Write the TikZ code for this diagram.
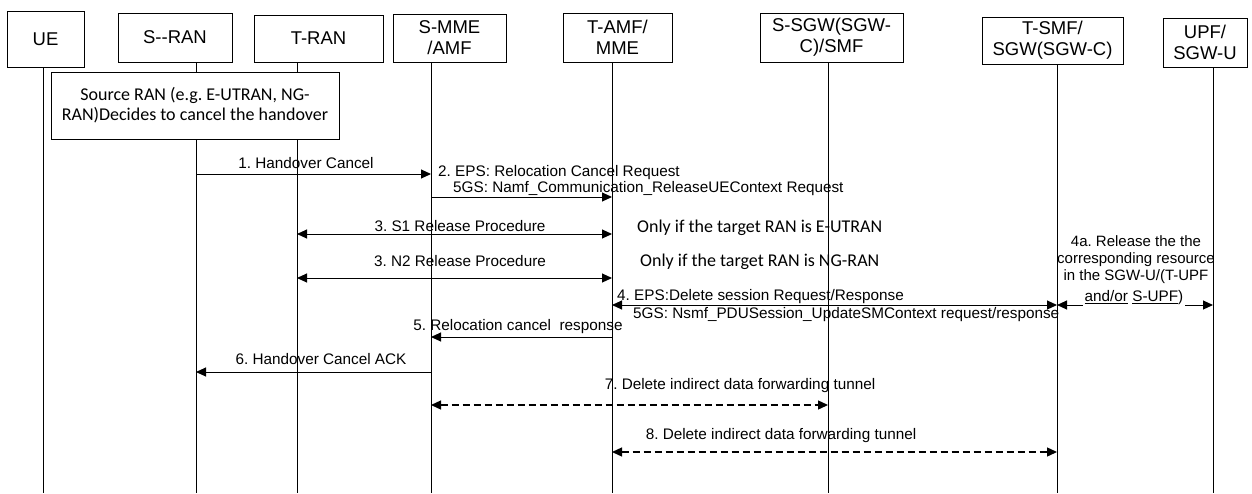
\documentclass[tikz,border=0pt]{standalone}
\usepackage{fontspec}
\setmainfont{Liberation Sans}
\newfontfamily\calfont{Carlito}
\usetikzlibrary{arrows.meta}
\frenchspacing
\tikzset{
  actor/.style={draw, line width=0.8pt, align=center, inner sep=0pt, font=\fontsize{18.5}{21}\selectfont},
  life/.style={line width=0.8pt},
  msg/.style={line width=1pt, -{Triangle[length=10pt,width=9pt]}},
  dmsg/.style={line width=1pt, {Triangle[length=10pt,width=9pt]}-{Triangle[length=10pt,width=9pt]}},
  dashmsg/.style={dmsg, line width=1.3pt, dash pattern=on 7pt off 4pt},
  lab/.style={inner sep=0pt, font=\fontsize{15.3}{17}\selectfont},
  clab/.style={inner sep=0pt, font=\calfont\fontsize{18}{20}\selectfont},
}
\begin{document}
\frenchspacing
\begin{tikzpicture}[x=1pt,y=-1pt]
\useasboundingbox (0,0) rectangle (1252,493);
% actors
\node[actor, minimum width=77, minimum height=56] (ue) at (45.5,39) {UE};
\node[actor, minimum width=114, minimum height=49] (sran) at (175,37.5) {S-{}-RAN};
\node[actor, minimum width=129, minimum height=47] (tran) at (318.5,38.5) {T-RAN};
\node[actor, minimum width=113, minimum height=48] (smme) at (449.5,38) {S-MME\\/AMF};
\node[actor, minimum width=109, minimum height=49] (tamf) at (617.5,37.5) {T-AMF/\\MME};
\node[actor, minimum width=143, minimum height=49] (ssgw) at (831.5,37.5) {S-SGW(SGW-\\C)/SMF};
\node[actor, minimum width=141, minimum height=47] (tsmf) at (1052.5,40.5) {T-SMF/\\SGW(SGW-C)};
\node[actor, minimum width=84, minimum height=49] (upf) at (1205,42.5) {UPF/\\SGW-U};
% source RAN box
\node[draw, line width=0.8pt, minimum width=288, minimum height=67, inner sep=0pt, align=center,
      font=\calfont\fontsize{18}{20}\selectfont] (src) at (195,105.5)
      {Source RAN (e.g. E-UTRAN, NG-\\RAN)Decides to cancel the handover};
% lifeline x positions
\coordinate (xUE) at (43,0);
\coordinate (xSRAN) at (196,0);
\coordinate (xTRAN) at (297,0);
\coordinate (xSMME) at (431,0);
\coordinate (xTAMF) at (612,0);
\coordinate (xSSGW) at (828,0);
\coordinate (xTSMF) at (1057,0);
\coordinate (xUPF) at (1213,0);
\coordinate (bot) at (0,493);
% lifelines
\draw[life] (ue.south -| xUE) -- (xUE |- bot);
\draw[life] (sran.south -| xSRAN) -- (src.north -| xSRAN);
\draw[life] (src.south -| xSRAN) -- (xSRAN |- bot);
\draw[life] (tran.south -| xTRAN) -- (src.north -| xTRAN);
\draw[life] (src.south -| xTRAN) -- (xTRAN |- bot);
\draw[life] (smme.south -| xSMME) -- (xSMME |- bot);
\draw[life] (tamf.south -| xTAMF) -- (xTAMF |- bot);
\draw[life] (ssgw.south -| xSSGW) -- (xSSGW |- bot);
\draw[life] (tsmf.south -| xTSMF) -- (xTSMF |- bot);
\draw[life] (upf.south -| xUPF) -- (xUPF |- bot);
% message y levels
\coordinate (y1) at (0,174);
\coordinate (y2) at (0,197);
\coordinate (y3) at (0,234);
\coordinate (y3b) at (0,278);
\coordinate (y4) at (0,305);
\coordinate (y5) at (0,337);
\coordinate (y6) at (0,372);
\coordinate (y7) at (0,405);
\coordinate (y8) at (0,452);
% 1
\draw[msg] (xSRAN |- y1) -- (xSMME |- y1);
\node[lab] (l1) at (306,163) {1. Handover Cancel};
% 2
\draw[msg] (xSMME |- y2) -- (xTAMF |- y2);
\node[lab, anchor=west] (l2a) at (438,173) {2. EPS: Relocation Cancel Request};
\node[lab, anchor=west] (l2b) at (453,189) {5GS: Namf\_Communication\_ReleaseUEContext Request};
% 3
\draw[dmsg] (xTRAN |- y3) -- (xTAMF |- y3);
\node[lab] (l3a) at (460,226) {3. S1 Release Procedure};
\node[clab, anchor=west] (n3a) at (637,228) {Only if the target RAN is E-UTRAN};
\draw[dmsg] (xTRAN |- y3b) -- (xTAMF |- y3b);
\node[lab] (l3b) at (460,261) {3. N2 Release Procedure};
\node[clab, anchor=west] (n3b) at (640,262) {Only if the target RAN is NG-RAN};
% 4
\draw[dmsg] (xTAMF |- y4) -- (xTSMF |- y4);
\node[lab, anchor=west] (l4a) at (617,297) {4. EPS:Delete session Request/Response};
\node[lab, anchor=west] (l4b) at (633,315) {5GS: Nsmf\_PDUSession\_UpdateSMContext request/response};
% 4a
\draw[dmsg] (xTSMF |- y4) -- (xUPF |- y4);
\node[lab, align=center, font=\fontsize{15}{17}\selectfont] (l4x) at (1136,260)
   {4a. Release the the\\corresponding resource\\in the SGW-U/(T-UPF};
\node[lab, fill=white, inner xsep=2pt, inner ysep=1pt] (l4y) at (1134,298) {\underline{and/or} \underline{S-UPF})};
% 5
\draw[msg] (xTAMF |- y5) -- (xSMME |- y5);
\node[lab] (l5) at (518,327) {5. Relocation cancel\ \ response};
% 6
\draw[msg] (xSMME |- y6) -- (xSRAN |- y6);
\node[lab] (l6) at (321,359) {6. Handover Cancel ACK};
% 7
\draw[dashmsg] (xSMME |- y7) -- (xSSGW |- y7);
\node[lab] (l7) at (740,386) {7. Delete indirect data forwarding tunnel};
% 8
\draw[dashmsg] (xTAMF |- y8) -- (xTSMF |- y8);
\node[lab] (l8) at (781,436) {8. Delete indirect data forwarding tunnel};
\end{tikzpicture}
\end{document}
